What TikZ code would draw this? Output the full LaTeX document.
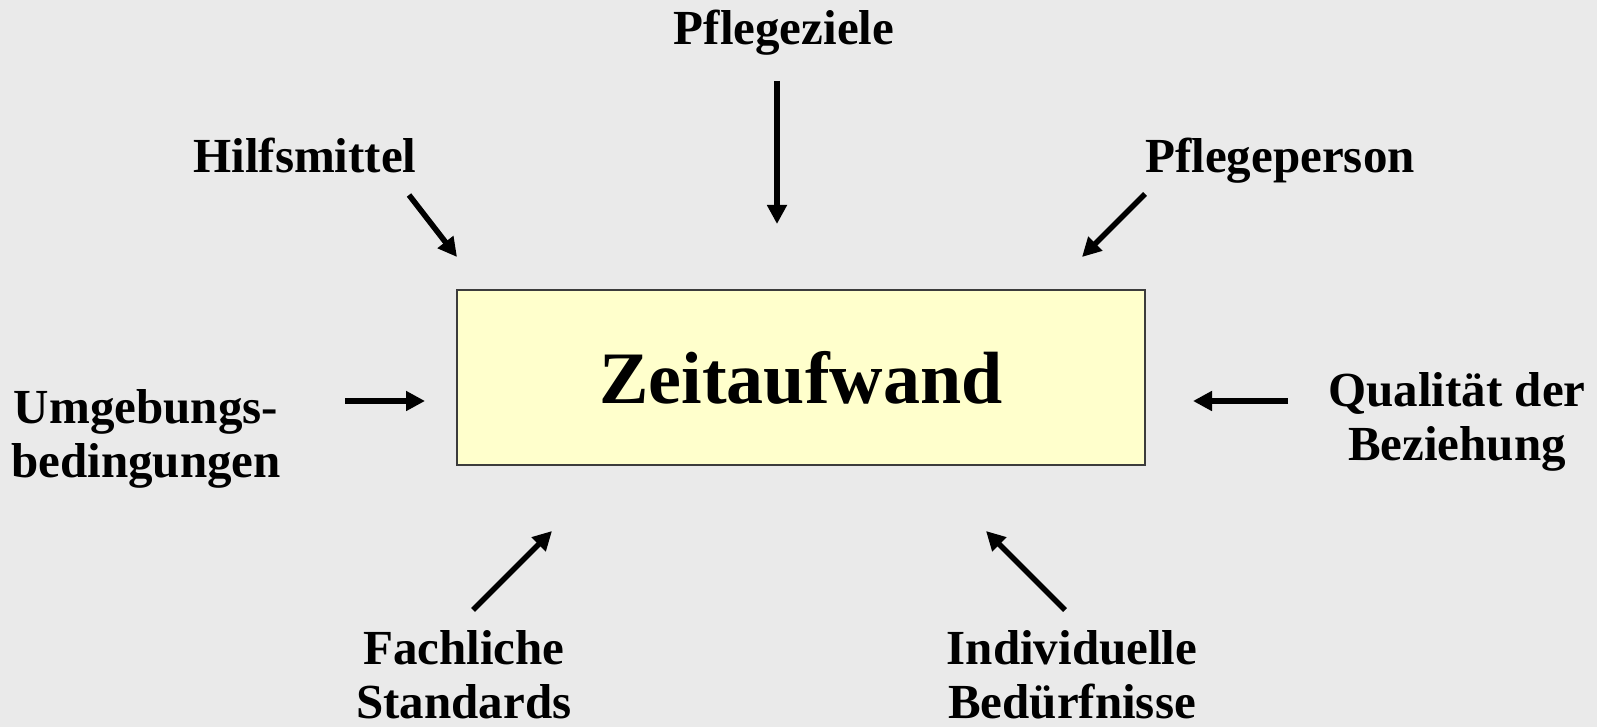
\documentclass[tikz,border=0pt]{standalone}
\usepackage{fontspec}
\setmainfont{Liberation Serif}
\usetikzlibrary{arrows.meta}
\definecolor{bgcol}{RGB}{234,234,234}
\definecolor{boxfill}{RGB}{255,255,204}
\definecolor{boxline}{RGB}{60,60,60}
\tikzset{
  factor/.style={font=\bfseries\fontsize{24.5pt}{27pt}\selectfont, align=center, inner sep=0pt, anchor=base},
  influence/.style={line width=2.8pt, -{Triangle[length=9.5pt,width=9.5pt]}},
}
\begin{document}
\begin{tikzpicture}[x=0.5pt, y=-0.5pt]
  % page background
  \fill[bgcol] (0,0) rectangle (1597,727);
  \useasboundingbox (0,0) rectangle (1597,727);

  % central box
  \node[draw=boxline, line width=0.6pt, fill=boxfill, minimum width=344pt, minimum height=87.5pt, inner sep=0pt]
    (zeit) at (801,377.5) {};
  \node[font=\bfseries\fontsize{37pt}{40pt}\selectfont, anchor=base, inner sep=0pt]
    (zeittext) at (801,404) {Zeitaufwand};

  % surrounding factors (multi-line nodes sit on the baseline of their last line)
  \node[factor] (ziele) at (784,45) {Pflegeziele};
  \node[factor] (hilfs) at (305,173) {Hilfsmittel};
  \node[factor] (person) at (1280,173) {Pflegeperson};
  \node[factor] (umgeb) at (146,477) {Umgebungs-\\bedingungen};
  \node[factor] (quali) at (1457,460) {Qualität der\\Beziehung};
  \node[factor] (fach) at (464,718) {Fachliche\\Standards};
  \node[factor] (indiv) at (1072,718) {Individuelle\\Bedürfnisse};

  % arrow end points
  \coordinate (zieleA) at (777,81);   \coordinate (zieleB) at (777,224);
  \coordinate (hilfsA) at (409,195);  \coordinate (hilfsB) at (457,257);
  \coordinate (personA) at (1145,194);\coordinate (personB) at (1082,257);
  \coordinate (umgebA) at (345,401);  \coordinate (umgebB) at (425,401);
  \coordinate (qualiA) at (1288,401); \coordinate (qualiB) at (1193,401);
  \coordinate (fachA) at (473,610);   \coordinate (fachB) at (552,531);
  \coordinate (indivA) at (1065,610); \coordinate (indivB) at (986,531);

  \draw[influence] (zieleA) -- (zieleB);
  \draw[influence] (hilfsA) -- (hilfsB);
  \draw[influence] (personA) -- (personB);
  \draw[influence] (umgebA) -- (umgebB);
  \draw[influence] (qualiA) -- (qualiB);
  \draw[influence] (fachA) -- (fachB);
  \draw[influence] (indivA) -- (indivB);
\end{tikzpicture}
\end{document}
